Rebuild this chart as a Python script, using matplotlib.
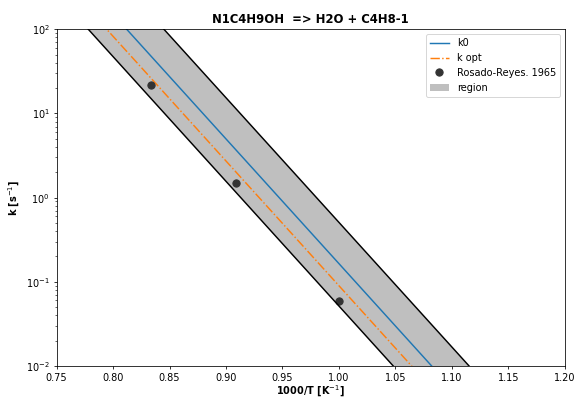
import matplotlib
matplotlib.use("Agg")
import matplotlib.pyplot as plt

# line endpoints (x = 1000/T) and rate constants
x_ends = [0.75, 1.20]
k0_vals = [832.0, 1.79e-4]
kopt_vals = [455.0, 9.77e-5]
region_low = [261.0, 5.61e-5]
region_high = [2560.0, 5.55e-4]

# experimental points
exp_x = [0.8333, 0.9091, 1.0]
exp_k = [21.8, 1.5, 0.059]

DPI = 70
fig = plt.figure(figsize=(577 / DPI, 398 / DPI), dpi=DPI)
ax = fig.add_axes([0.098, 0.0804, 0.881, 0.8460])

ax.plot(x_ends, k0_vals, color="C0", lw=1.5, label="k0")
ax.plot(x_ends, kopt_vals, color="C1", lw=1.5, ls="-.", label="k opt")
ax.plot(exp_x, exp_k, "o", color="0.2", ms=7.5, label="Rosado-Reyes. 1965")
ax.fill_between(x_ends, region_low, region_high, color="0.75", lw=0, label="region")
ax.plot(x_ends, region_low, color="k", lw=1.5)
ax.plot(x_ends, region_high, color="k", lw=1.5)

ax.set_yscale("log")
ax.set_xlim(0.75, 1.20)
ax.set_ylim(1e-2, 1e2)
ax.set_xlabel("1000/T [K$^{-1}$]", fontweight="bold", labelpad=0.5)
ax.set_ylabel("k [s$^{-1}$]", fontweight="bold")
ax.set_title("N1C4H9OH  => H2O + C4H8-1", fontweight="bold", fontsize=12)

ax.legend(loc="upper right")

fig.savefig("out.png", dpi=DPI)
